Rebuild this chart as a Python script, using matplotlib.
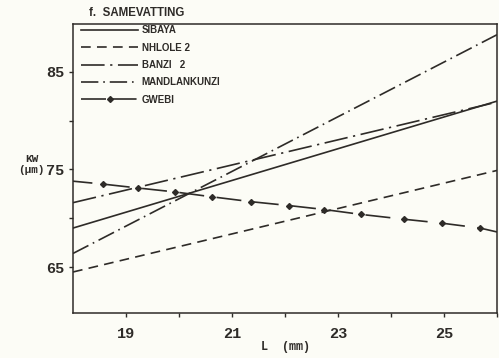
import matplotlib
matplotlib.use('Agg')
import matplotlib.pyplot as plt

# values (KW in um against L in mm)
L_ends = [18, 26]
sibaya = [69.0, 82.0]
nhlole2 = [64.5, 74.9]
banzi2 = [71.6, 81.9]
mandlankunzi = [66.4, 88.8]
gwebi_L = [18.0, 18.57, 19.23, 19.92, 20.62, 21.36, 22.08, 22.74, 23.43, 24.25, 24.96, 25.68, 26.0]
gwebi = [73.8, 73.5, 73.1, 72.7, 72.2, 71.7, 71.3, 70.9, 70.4, 69.9, 69.5, 69.0, 68.6]

plt.rcParams['lines.scale_dashes'] = False
ink = '#2e2b28'
paper = '#fcfcf6'
mono = ['Liberation Mono', 'DejaVu Sans Mono']
sans = ['Liberation Sans', 'DejaVu Sans']

fig = plt.figure(figsize=(4.99, 3.58), dpi=100, facecolor=paper)
ax = fig.add_axes([0.1463, 0.1257, 0.8497, 0.8073], facecolor=paper)

ax.plot(L_ends, sibaya, color=ink, lw=1.2, ls='-', label='SIBAYA')
ax.plot(L_ends, nhlole2, color=ink, lw=1.2, ls=(0, (7, 4.5)), label='NHLOLE 2')
ax.plot(L_ends, banzi2, color=ink, lw=1.2, ls=(0, (17, 4, 1.6, 4)), label='BANZI   2')
ax.plot(L_ends, mandlankunzi, color=ink, lw=1.2, ls=(0, (12.5, 3.5, 1.2, 3.5)), label='MANDLANKUNZI')
ax.plot(gwebi_L, gwebi, color=ink, lw=1.2, ls=(4, (18, 9)))
ax.plot(gwebi_L[1:-1], gwebi[1:-1], ls='none', marker='D', ms=3, color=ink)
# legend entry for GWEBI: dashed line with one diamond in the middle
gw, = ax.plot([], [], color=ink, lw=1.2, ls=(0, (18, 4)), marker='D', ms=3,
              markevery=[1], label='GWEBI')

ax.set_xlim(18, 26)
ax.set_ylim(60.3, 89.9)
ax.set_xticks([19, 21, 23, 25])
ax.set_xticks([20, 22, 24, 26], minor=True)
ax.set_yticks([65, 75, 85])
ax.set_yticks([70, 80], minor=True)
ax.tick_params(which='both', direction='out', length=3, width=1, color=ink,
               labelcolor=ink)
for t in ax.get_xticklabels() + ax.get_yticklabels():
    t.set_family(mono)
    t.set_fontweight('bold')
    t.set_fontsize(11)
ax.tick_params(axis='x', pad=7)
ax.tick_params(axis='y', pad=3)
for s in ax.spines.values():
    s.set_color(ink)
    s.set_linewidth(1.1)

ax.set_xlabel('L  (mm)', family=mono, fontsize=8.5, fontweight='bold',
              color=ink, labelpad=0)
fig.text(0.063, 0.54, 'KW\n(\u00b5m)', family=mono, fontsize=8,
         fontweight='bold', color=ink, ha='center', va='center',
         linespacing=1.15)
fig.text(0.178, 0.965, 'f.  SAMEVATTING', family=sans, fontsize=8.3,
         fontweight='bold', color=ink, ha='left', va='center')

leg = ax.legend(loc='upper left', bbox_to_anchor=(0.02, 0.995), frameon=False,
                handlelength=5.8, handletextpad=0.4, labelspacing=0.75,
                borderpad=0, borderaxespad=0,
                prop={'family': sans, 'weight': 'bold', 'size': 7})
for t in leg.get_texts():
    t.set_color(ink)
gw.set_data([0, 0.5, 1], [0, 0, 0])

plt.savefig('out.png', dpi=100, facecolor=paper)
